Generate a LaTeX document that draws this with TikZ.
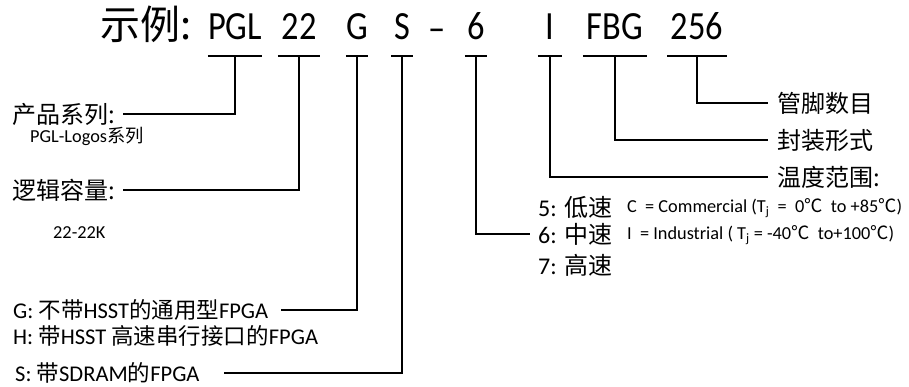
\documentclass[tikz,border=0pt]{standalone}
\usepackage{fontspec}
\setmainfont{Carlito}
\newfontfamily\cjk{Noto Sans CJK SC}
\newfontfamily\hdfont{Carlito}[FakeStretch=0.86]
\begin{document}
\begin{tikzpicture}[x=1pt,y=-1pt,
        conn/.style={line width=1.6pt},
        partcode/.style={font=\hdfont\fontsize{40}{40}\selectfont,inner sep=0pt,
                         text height=26pt,text depth=16pt,anchor=base,minimum width=#1},
        cnlabel/.style={font=\fontsize{24}{24}\selectfont,inner sep=0pt,anchor=west},
        desctext/.style={font=\fontsize{22.5}{22.5}\selectfont,inner sep=0pt,anchor=west},
        smallnote/.style={font=\fontsize{18.3}{18.3}\selectfont,inner sep=0pt,anchor=base west}]
    \useasboundingbox (0,0) rectangle (909,387);

    % Define code parts
    \node[font=\cjk\fontsize{40}{40}\selectfont,inner sep=0pt,anchor=base west] (ex) at (100,40) {示例:};
    \node[partcode=54] (pgl) at (235,40) {PGL};
    \node[partcode=42] (cap) at (299,40) {22};
    \node[partcode=20] (g) at (357,40) {G};
    \node[partcode=21] (s) at (402,40) {S};
    \node[partcode=14] (dash) at (437,42) {–};
    \node[partcode=22] (six) at (476,40) {6};
    \node[partcode=24] (ind) at (550,40) {I};
    \node[partcode=64] (fbg) at (615,40) {FBG};
    \node[partcode=59] (pins) at (697,40) {256};
    \foreach \n in {pgl,cap,g,s,six,ind,fbg,pins}
        \draw[conn] (\n.south west) -- (\n.south east);

    % Define left labels
    \node[cnlabel] (fam) at (12,114) {{\cjk 产品系列:}};
    \node[smallnote] (famsub) at (30,143) {PGL-Logos{\cjk 系列}};
    \node[cnlabel] (size) at (12,190) {{\cjk 逻辑容量:}};
    \node[smallnote] (sizesub) at (53,239) {22-22K};
    \node[desctext] (gdesc) at (13,310) {G: {\cjk 不带}HSST{\cjk 的通用型}FPGA};
    \node[desctext] (hdesc) at (13,336) {H: {\cjk 带}HSST {\cjk 高速串行接口的}FPGA};
    \node[desctext] (sdesc) at (15,373) {S: {\cjk 带}SDRAM{\cjk 的}FPGA};

    % Define right labels
    \node[cnlabel] (pin) at (777,103) {{\cjk 管脚数目}};
    \node[cnlabel] (pkg) at (777,140) {{\cjk 封装形式}};
    \node[cnlabel] (temp) at (777,177) {{\cjk 温度范围:}};
    \node[cnlabel] (spd5) at (538,207) {5: {\cjk 低速}};
    \node[cnlabel] (spd6) at (538,234) {6: {\cjk 中速}};
    \node[cnlabel] (spd7) at (538,265) {7: {\cjk 高速}};
    \node[smallnote] (tc) at (627,213) {C\ \ = Commercial (T\textsubscript{j}\ \ = \ 0{\cjk ℃}\ \ to +85{\cjk ℃})};
    \node[smallnote] (ti) at (627,240) {I\ \ = Industrial ( T\textsubscript{j} = -40{\cjk ℃}\ \ to+100{\cjk ℃})};

    % Draw connectors
    \draw[conn,shorten >=8pt] (pgl.south) |- (fam.east);
    \draw[conn,shorten >=8pt] (cap.south) |- (size.east);
    \draw[conn,shorten >=13pt] (g.south) |- (gdesc.east);
    \draw[conn,shorten >=24pt] (s.south) |- (sdesc.east);
    \draw[conn,shorten >=8pt] (six.south) |- (spd6.west);
    \draw[conn,shorten >=9pt] (ind.south) |- (temp.west);
    \draw[conn,shorten >=9pt] (fbg.south) |- (pkg.west);
    \draw[conn,shorten >=9pt] (pins.south) |- (pin.west);
\end{tikzpicture}
\end{document}
